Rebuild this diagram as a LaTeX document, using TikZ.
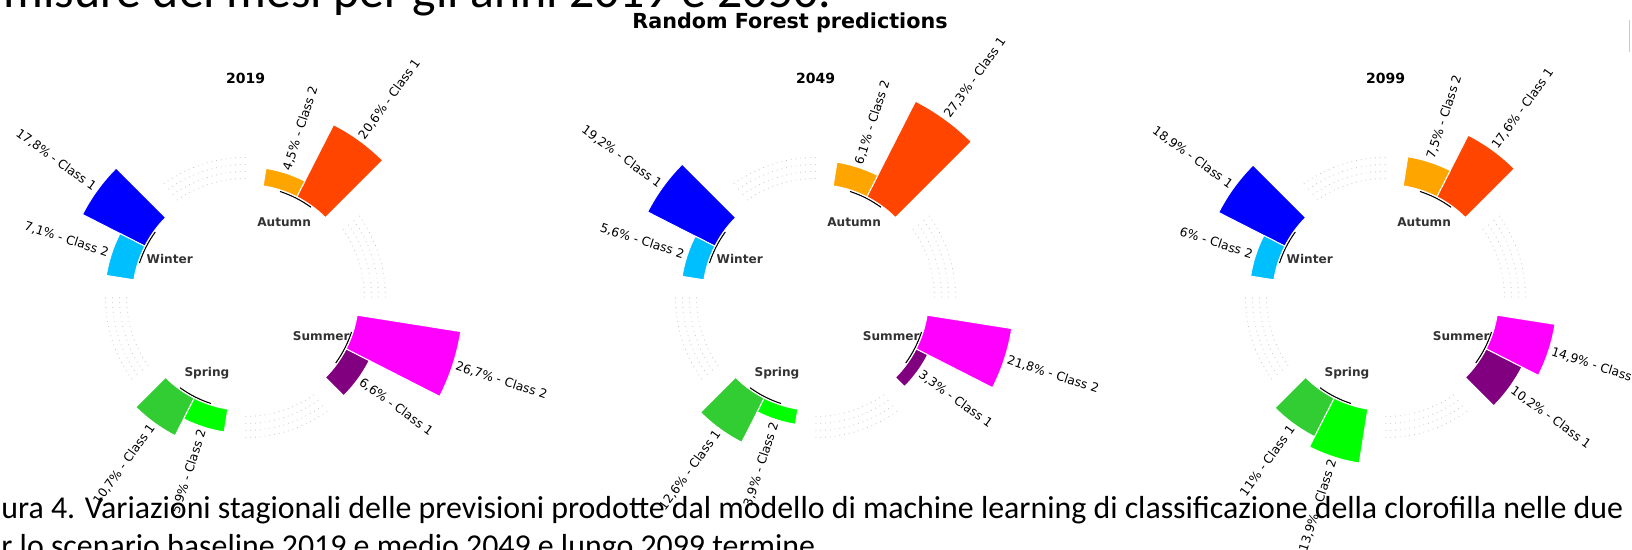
\documentclass[tikz,border=0pt]{standalone}
\usepackage{fontspec}
\setmainfont{Carlito}
\newfontfamily\plotfont{DejaVu Sans}
\usepackage{xcolor}
\usepackage{tikz}
\usetikzlibrary{positioning}

\definecolor{winterA}{HTML}{0000FF}
\definecolor{winterB}{HTML}{00BFFF}
\definecolor{springA}{HTML}{32CD32}
\definecolor{springB}{HTML}{00FF00}
\definecolor{summerA}{HTML}{800080}
\definecolor{summerB}{HTML}{FF00FF}
\definecolor{autumnA}{HTML}{FF4500}
\definecolor{autumnB}{HTML}{FFA500}
\definecolor{seasongray}{HTML}{333333}
\definecolor{gridgray}{HTML}{C8C8C8}

\begin{document}
\begin{tikzpicture}[
        x=0.5pt, y=0.5pt,
        bar/.style={draw=white, line width=0.5pt},
        barlabel/.style={font=\plotfont\fontsize{6.15}{7}\selectfont, inner sep=0pt},
        season/.style={font=\plotfont\bfseries\fontsize{6.05}{7}\selectfont, text=seasongray, inner sep=0pt},
        year/.style={font=\plotfont\bfseries\fontsize{7}{8}\selectfont, inner sep=0pt},
        refline/.style={gridgray, dotted, line width=0.4pt},
        groupline/.style={black, line width=0.55pt},
        caption/.style={font=\fontsize{15.93}{19}\selectfont, anchor=base west, inner sep=0pt}
    ]
        \useasboundingbox (0,0) rectangle (1632,550);
        \clip (0,0) rectangle (1632,550);
        \fill[white] (0,0) rectangle (1632,550);

        % Page text
        \node[caption, font=\fontsize{24.9}{30}\selectfont] (toptext) at (3,542) {misure dei mesi per gli anni 2019 e 2050.};
        \node[font=\plotfont\bfseries\fontsize{10.35}{12}\selectfont, inner sep=0pt] (title) at (790,527) {Random Forest predictions};
        \draw[gray!40, line width=0.5pt] (1629,498) -- (1629,530);

        % Panels: year, seasons, reference lines, group lines
        \foreach \pn/\yr in {1/2019, 2/2049, 3/2099}{
            \begin{scope}[shift={({245.5+570*(\pn-1)},252.5)}]
                \node[year] (year\pn) at (90:219.5) {\yr};
                \node[season] (winter\pn) at (153:85) {Winter};
                \node[season] (spring\pn) at (243:85) {Spring};
                \node[season] (summer\pn) at (333:85) {Summer};
                \node[season] (autumn\pn) at (63:85) {Autumn};
                \foreach \g in {0,90,180,270}
                    \foreach \r in {119,126,133,140}
                        \draw[refline] (\g:\r) arc[start angle=\g, end angle=\g+36, radius=\r];
                \foreach \g in {45,135,225,315}
                    \draw[groupline] (\g+9:111.5) arc[start angle=\g+9, end angle=\g+27, radius=111.5];
            \end{scope}
        }

        % Bars and their labels
        \foreach \pn/\ang/\val/\txt/\col/\cls in {
            1/135/17.8/17{,}8/winterA/1, 1/153/7.1/7{,}1/winterB/2,
            1/225/10.7/10{,}7/springA/1, 1/243/5.9/5{,}9/springB/2,
            1/315/6.6/6{,}6/summerA/1, 1/333/26.7/26{,}7/summerB/2,
            1/45/20.6/20{,}6/autumnA/1, 1/63/4.5/4{,}5/autumnB/2,
            2/135/19.2/19{,}2/winterA/1, 2/153/5.6/5{,}6/winterB/2,
            2/225/12.6/12{,}6/springA/1, 2/243/3.9/3{,}9/springB/2,
            2/315/3.3/3{,}3/summerA/1, 2/333/21.8/21{,}8/summerB/2,
            2/45/27.3/27{,}3/autumnA/1, 2/63/6.1/6{,}1/autumnB/2,
            3/135/18.9/18{,}9/winterA/1, 3/153/6/6/winterB/2,
            3/225/11/11/springA/1, 3/243/13.9/13{,}9/springB/2,
            3/315/10.2/10{,}2/summerA/1, 3/333/14.9/14{,}9/summerB/2,
            3/45/17.6/17{,}6/autumnA/1, 3/63/7.5/7{,}5/autumnB/2}{
            \pgfmathsetmacro\rtop{113+3.93*\val}
            \pgfmathsetmacro\rlab{\rtop+3}
            \pgfmathsetmacro\mid{\ang+9}
            \pgfmathtruncatemacro\lft{(\mid>90)&&(\mid<270)}
            \begin{scope}[shift={({245.5+570*(\pn-1)},252.5)}]
                \filldraw[bar, fill=\col] (\ang:113) arc[start angle=\ang, end angle=\ang+18, radius=113]
                    -- (\ang+18:\rtop) arc[start angle=\ang+18, end angle=\ang, radius=\rtop] -- cycle;
                \ifnum\lft=1
                    \node[barlabel, anchor=east, rotate=\mid+180] (label\pn-\ang) at (\mid:\rlab) {\txt\% - Class \cls};
                \else
                    \node[barlabel, anchor=west, rotate=\mid] (label\pn-\ang) at (\mid:\rlab) {\txt\% - Class \cls};
                \fi
            \end{scope}
        }

        % Caption
        \node[caption] (caption1) at (1,31) {ura 4. Variazioni stagionali delle previsioni prodotte dal modello di machine learning di classificazione della clorofilla nelle due};
        \node[caption] (caption2) at (1,-7) {r lo scenario baseline 2019 e medio 2049 e lungo 2099 termine.};
    \end{tikzpicture}
\end{document}
